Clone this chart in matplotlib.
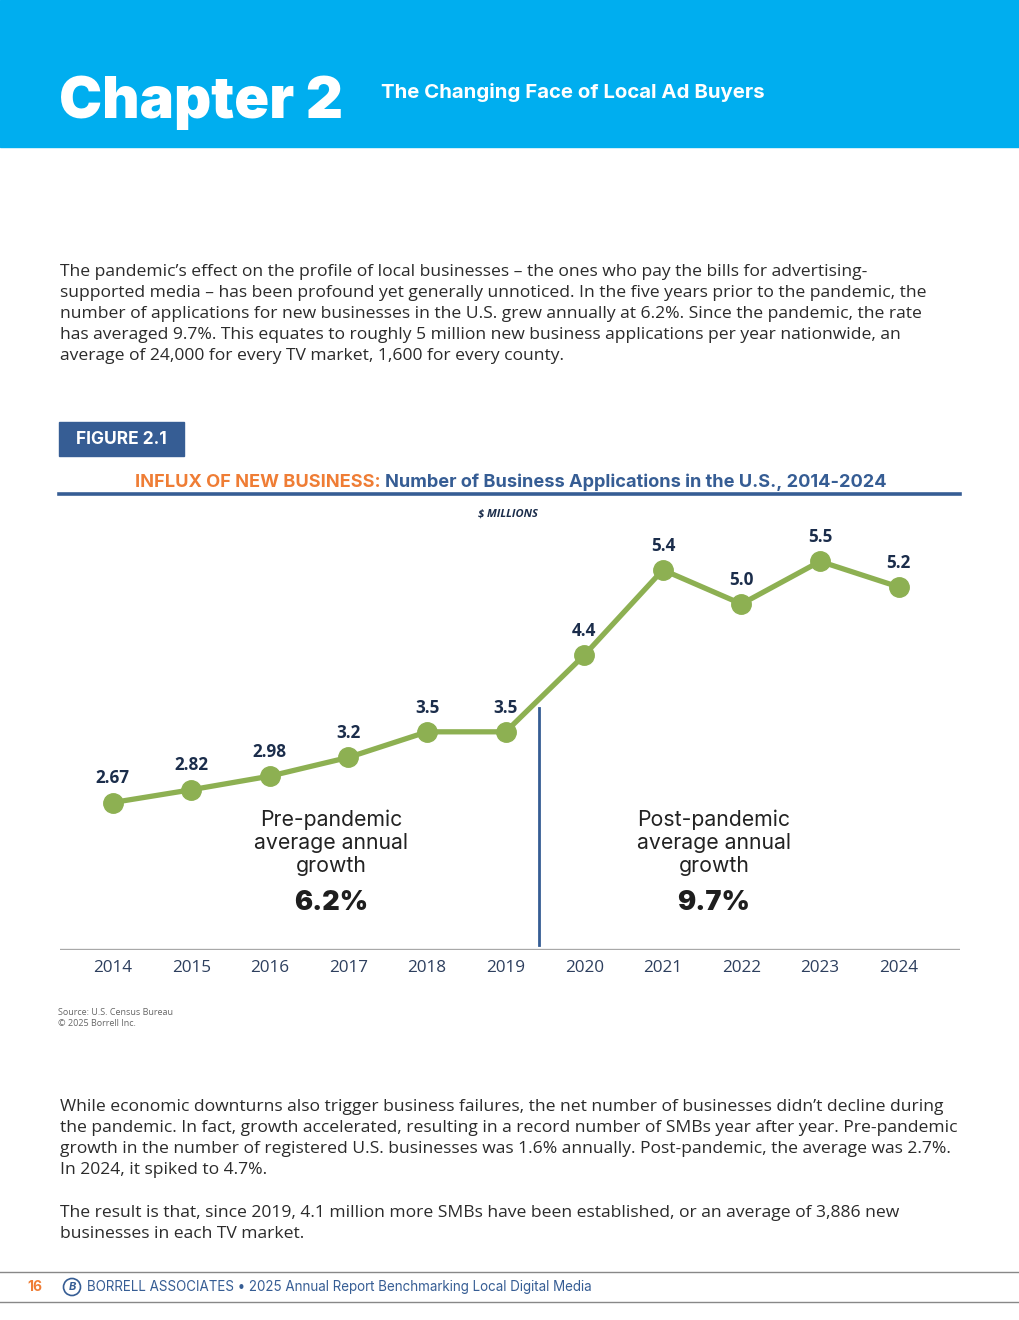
import numpy as np
import matplotlib
matplotlib.use("Agg")
import matplotlib.pyplot as plt
import matplotlib.patches as mpatches

# chart data
years = [2014, 2015, 2016, 2017, 2018, 2019, 2020, 2021, 2022, 2023, 2024]
applications = [2.67, 2.82, 2.98, 3.2, 3.5, 3.5, 4.4, 5.4, 5.0, 5.5, 5.2]
value_labels = ["2.67", "2.82", "2.98", "3.2", "3.5", "3.5", "4.4", "5.4", "5.0", "5.5", "5.2"]
pandemic_split = 2019.43
growth_pre = "6.2%"
growth_post = "9.7%"

W, H = 1020, 1320
BLUE_HEAD = "#00aeef"
STEEL = "#365d94"
NAVY = "#1b2d4b"
GREEN = "#8db052"
ORANGE = "#ef7d35"
BODY = "#2b2b2b"
HEAD_FONT = "Inter"

para1 = ["The pandemic\u2019s effect on the profile of local businesses \u2013 the ones who pay the bills for advertising-",
         "supported media \u2013 has been profound yet generally unnoticed. In the five years prior to the pandemic, the",
         "number of applications for new businesses in the U.S. grew annually at 6.2%. Since the pandemic, the rate",
         "has averaged 9.7%. This equates to roughly 5 million new business applications per year nationwide, an",
         "average of 24,000 for every TV market, 1,600 for every county."]
para2 = ["While economic downturns also trigger business failures, the net number of businesses didn\u2019t decline during",
         "the pandemic. In fact, growth accelerated, resulting in a record number of SMBs year after year. Pre-pandemic",
         "growth in the number of registered U.S. businesses was 1.6% annually. Post-pandemic, the average was 2.7%.",
         "In 2024, it spiked to 4.7%."]
para3 = ["The result is that, since 2019, 4.1 million more SMBs have been established, or an average of 3,886 new",
         "businesses in each TV market."]


def fx(x):
    return x / W


def fy(y):
    return 1 - y / H


fig = plt.figure(figsize=(W / 100, H / 100), dpi=100)
fig.patch.set_facecolor("white")

# header band
fig.patches.append(mpatches.Rectangle((0, fy(147)), 1, 147 / H, transform=fig.transFigure,
                                      color=BLUE_HEAD, zorder=0))
fig.text(fx(59), fy(103), "Chapter 2", color="white", fontsize=41.5, fontweight="black",
         family=HEAD_FONT, va="center", ha="left")
fig.text(fx(381), fy(92), "The Changing Face of Local Ad Buyers", color="white", fontsize=14.7,
         fontweight="bold", family=HEAD_FONT, va="center", ha="left")

# body text, one line at a time (21 px leading)
for lines, first in [(para1, 270), (para2, 1105), (para3, 1211)]:
    for i, line in enumerate(lines):
        fig.text(fx(60), fy(first + 21 * i), line, color=BODY, fontsize=12.6, family="Open Sans",
                 va="center_baseline", ha="left")

# figure tag
fig.patches.append(mpatches.Rectangle((fx(59), fy(456)), 125 / W, 34 / H, transform=fig.transFigure,
                                      color=STEEL, zorder=1))
fig.text(fx(121), fy(440), "FIGURE 2.1", color="white", fontsize=12.5, fontweight="bold",
         family=HEAD_FONT, va="center", ha="center", zorder=2)

# chart title
t1 = fig.text(fx(135), fy(482), "INFLUX OF NEW BUSINESS: ", color=ORANGE, fontsize=13.1,
              fontweight="bold", family=HEAD_FONT, va="center", ha="left")
fig.canvas.draw()
bb = t1.get_window_extent()
fig.text(bb.x1 / W, fy(482), "Number of Business Applications in the U.S., 2014-2024", color=STEEL,
         fontsize=13.1, fontweight="bold", family=HEAD_FONT, va="center", ha="left")
fig.add_artist(plt.Line2D([fx(59), fx(960)], [fy(494), fy(494)], transform=fig.transFigure,
                          color=STEEL, lw=2.6))
fig.text(fx(508), fy(514), "$ MILLIONS", color=NAVY, fontsize=8, fontweight="bold",
         style="italic", family="Open Sans", va="center", ha="center")

# chart axes
ax = fig.add_axes([fx(60), fy(950), 900 / W, 450 / H])
ax.set_xlim(2013.33, 2024.78)
ax.set_ylim(0.94, 6.22)
ax.axis("off")
ax.plot(years, applications, color=GREEN, lw=3.8, marker="o", markersize=14,
        solid_joinstyle="round", zorder=3)
for yr, v, lab in zip(years, applications, value_labels):
    ax.annotate(lab, (yr, v), xytext=(0, 17.5), textcoords="offset points", ha="center",
                va="center", color=NAVY, fontsize=12.3, fontweight="bold", family="Open Sans")
ax.axhline(0.94, color="#a8a8a8", lw=2.4, zorder=1)
ax.plot([pandemic_split, pandemic_split], [1.0, 3.78], color=STEEL, lw=2, zorder=2)
for yr in years:
    ax.text(yr, 0.73, str(yr), ha="center", va="center", color="#2d3f5e", fontsize=12.3,
            family="Open Sans", clip_on=False)

# growth callouts
for xc, period, val in [(331, "Pre-pandemic", growth_pre), (714, "Post-pandemic", growth_post)]:
    for i, line in enumerate([period, "average annual", "growth"]):
        fig.text(fx(xc), fy(820 + 23 * i), line, ha="center", va="center", color="#222222",
                 fontsize=15.3, family=HEAD_FONT)
    fig.text(fx(xc), fy(903), val, ha="center", va="center", color="#1e1e1e", fontsize=19.5,
             fontweight="black", family=HEAD_FONT)

# source
fig.text(fx(58), fy(1018), "Source: U.S. Census Bureau\n\u00a9 2025 Borrell Inc.", color="#666666",
         fontsize=6.5, family="Open Sans", va="center", ha="left", linespacing=1.35)

# footer
fig.add_artist(plt.Line2D([0, 1], [fy(1272), fy(1272)], transform=fig.transFigure, color="#888888", lw=1))
fig.add_artist(plt.Line2D([0, 1], [fy(1302), fy(1302)], transform=fig.transFigure, color="#888888", lw=1))
fig.text(fx(35), fy(1287), "16", color=ORANGE, fontsize=10, fontweight="bold", family=HEAD_FONT,
         va="center", ha="center")
fig.patches.append(mpatches.Ellipse((fx(72), fy(1287)), 17 / W, 17 / H, transform=fig.transFigure,
                                    facecolor="white", edgecolor=STEEL, lw=1.2))
fig.text(fx(72), fy(1287), "B", color=STEEL, fontsize=8, fontweight="bold", style="italic",
         family=HEAD_FONT, va="center", ha="center")
fig.text(fx(87), fy(1287), "BORRELL ASSOCIATES \u2022 2025 Annual Report Benchmarking Local Digital Media",
         color=STEEL, fontsize=9.65, family=HEAD_FONT, va="center", ha="left")

fig.savefig("out.png", dpi=100, facecolor="white")
